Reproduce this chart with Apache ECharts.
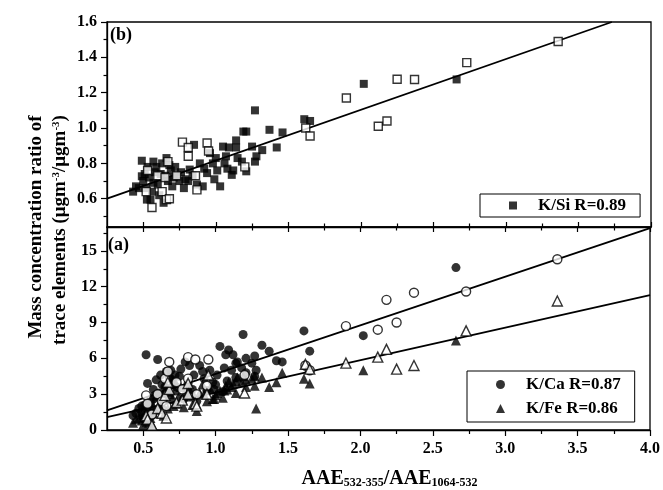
<!DOCTYPE html>
<html>
<head>
<meta charset="utf-8">
<script src="https://cdn.jsdelivr.net/npm/echarts@6/dist/echarts.min.js"></script>
<style>
  html, body { margin: 0; padding: 0; background: #fff; }
  #chart { width: 663px; height: 490px; }
</style>
</head>
<body>
<div id="chart"></div>
<script>
// Samples drawn with filled markers
const filledX  = [0.43,0.47,0.49,0.49,0.50,0.52,0.525,0.55,0.53,0.57, 0.57,0.59,0.60,0.62,0.63,0.64,0.66,0.67,0.69,0.70,
                  0.72,0.73,0.76,0.78,0.79,0.81,0.82,0.85,0.87,0.89, 0.91,0.94,0.96,0.98,0.99,1.01,1.03,1.05,1.06,1.07,
                  1.09,1.11,1.12,1.14,1.14,1.15,1.18,1.19,1.21,1.21, 1.25,1.27,1.27,1.28,1.32,1.37,1.42,1.46,1.61,1.65,
                  2.02,2.66, 0.45,0.51,0.54,0.56,0.58,0.61,0.65,0.68,0.71,0.75, 0.84,0.92,1.00,1.08];
const filledSi = [0.64,0.66,0.815,0.727,0.70,0.66,0.595,0.595,0.78,0.81, 0.69,0.78,0.68,0.74,0.80,0.577,0.83,0.70,0.76,0.67,
                  0.78,0.73,0.75,0.66,0.71,0.70,0.765,0.905,0.68,0.80, 0.67,0.745,0.858,0.80,0.71,0.76,0.67,0.895,0.80,0.84,
                  0.89,0.735,0.76,0.93,0.89,0.83,0.81,0.98,0.98,0.755, 0.895,1.10,0.81,0.84,0.875,0.99,0.89,0.975,1.05,1.04,
                  1.25,1.275, 0.67,0.74,0.72,0.64,0.75,0.62,0.73,0.79,0.72,0.70, 0.73,0.77,0.83,0.77];
const filledCa = [1.2,1.8,2.0,1.5,1.0,6.3,1.7,2.3,3.9,3.4, 2.6,4.2,5.9,4.6,3.8,2.8,4.9,3.2,5.0,4.2,
                  4.6,3.6,5.1,2.6,5.7,3.9,5.4,4.6,2.4,5.4, 4.9,3.3,5.0,4.0,3.4,4.6,7.0,3.2,5.2,6.3,
                  6.7,5.0,6.3,5.6,4.4,5.7,5.2,8.0,6.0,4.8, 5.6,6.2,4.5,5.0,7.1,6.6,5.8,5.7,8.3,6.6,
                  7.9,13.6, 1.4,2.1,1.9,1.2,2.9,3.1,3.6,4.4,3.9,4.5, 3.4,4.3,3.8,4.1];
const filledFe = [0.6,1.0,1.3,0.8,0.45,1.5,0.7,1.0,2.4,2.0, 1.4,2.8,3.0,2.4,2.2,1.2,3.6,1.8,3.0,2.6,
                  3.3,2.2,3.6,1.9,3.2,2.8,3.4,2.9,1.6,3.1, 3.8,2.4,3.5,2.6,2.6,3.1,3.3,2.7,3.3,3.7,
                  4.0,3.6,3.9,4.1,3.1,4.4,4.0,4.5,4.2,3.6, 4.3,4.5,3.7,1.8,4.4,3.6,4.0,4.8,4.3,3.9,
                  5.0,7.5, 0.9,1.1,0.6,0.5,1.7,1.9,2.6,3.2,2.0,2.9, 2.1,3.0,2.9,3.4];

// Samples drawn with open markers
const openX  = [0.52,0.53,0.56,0.60,0.63,0.65,0.66,0.68,0.67,0.73,0.77,0.81,0.81,0.86,0.87,0.94,0.95,1.20,
                1.62,1.65,1.90,2.12,2.18,2.25,2.37,2.73,3.36];
const openSi = [0.64,0.76,0.55,0.73,0.64,0.72,0.595,0.60,0.81,0.73,0.92,0.89,0.84,0.73,0.65,0.915,0.87,0.78,
                1.00,0.955,1.17,1.01,1.04,1.276,1.275,1.37,1.49];
const openCa = [2.9,2.2,1.3,3.0,2.4,4.3,2.0,5.7,4.9,4.0,3.4,6.1,4.3,5.9,3.0,3.7,5.9,4.6,
                5.4,5.0,8.7,8.4,10.9,9.0,11.5,11.6,14.3];
const openFe = [1.2,0.9,0.4,1.8,1.4,2.9,1.0,3.4,4.0,2.3,2.5,3.9,3.0,2.2,2.0,3.0,4.6,3.1,
                5.5,5.1,5.6,6.1,6.75,5.1,5.4,8.3,10.8];

// Regression line end points
const fitSi = [[0.25, 0.60], [3.73, 1.60]];
const fitCa = [[0.25, 1.65], [4.00, 16.9]];
const fitFe = [[0.25, 1.08], [4.00, 11.3]];

// Series names (legend text)
const nameSi = 'K/Si R=0.89';
const nameCa = 'K/Ca R=0.87';
const nameFe = 'K/Fe R=0.86';

// Tick positions
const xMajor  = [0.5, 1.0, 1.5, 2.0, 2.5, 3.0, 3.5, 4.0];
const xMinor  = [0.75, 1.25, 1.75, 2.25, 2.75, 3.25, 3.75];
const ySiMajor = [0.6, 0.8, 1.0, 1.2, 1.4, 1.6];
const ySiMinor = [0.5, 0.7, 0.9, 1.1, 1.3, 1.5];
const yAMajor = [0, 3, 6, 9, 12, 15];
const yAMinor = [1.5, 4.5, 7.5, 10.5, 13.5, 16.5];

const FONT = '"Liberation Serif", "Times New Roman", serif';
const pts = (xs, ys) => xs.map((x, i) => [x, ys[i]]);

const chart = echarts.init(document.getElementById('chart'), null, { renderer: 'canvas' });

const frameLine = { show: true, onZero: false, lineStyle: { color: '#000', width: 1.3 } };
const noLine = { show: false, onZero: false };

function xAxisDef(grid, position, ticks, len, inside, withLine, labels) {
  return {
    type: 'value', gridIndex: grid, position: position, min: 0.25, max: 4.0,
    axisLine: withLine ? frameLine : noLine,
    splitLine: { show: false },
    axisTick: { show: true, inside: inside, length: len, customValues: ticks,
                lineStyle: { color: '#000', width: 1.2 } },
    axisLabel: labels ? {
      show: true, customValues: ticks, margin: 11, color: '#000',
      fontFamily: FONT, fontWeight: 'bold', fontSize: 16,
      formatter: v => v.toFixed(1)
    } : { show: false }
  };
}

function yAxisDef(grid, min, max, ticks, len, labels, digits) {
  return {
    type: 'value', gridIndex: grid, position: 'left', min: min, max: max,
    axisLine: labels ? frameLine : noLine,
    splitLine: { show: false },
    axisTick: { show: true, inside: false, length: len, customValues: ticks,
                lineStyle: { color: '#000', width: 1.2 } },
    axisLabel: labels ? {
      show: true, customValues: ticks, margin: 10, color: '#000',
      fontFamily: FONT, fontWeight: 'bold', fontSize: 16,
      formatter: v => v.toFixed(digits)
    } : { show: false }
  };
}

const filledStyle = { color: '#000' };
const openStyle = { color: '#fff', borderColor: '#000', borderWidth: 1.4 };
const fitStyle = { color: '#000', width: 1.8 };

const legendText = {
  fontFamily: FONT, fontWeight: 'bold', fontSize: 17, color: '#000',
  rich: { g: { width: 16 } }
};

const option = {
  animation: false,
  backgroundColor: '#fff',
  grid: [
    { left: 107, top: 22, width: 544, height: 205, show: true, borderColor: '#000', borderWidth: 1.3 },
    { left: 107, top: 227, width: 544, height: 205, show: true, borderColor: '#000', borderWidth: 1.3 }
  ],
  xAxis: [
    xAxisDef(0, 'bottom', xMajor, 5, true, true, false),
    xAxisDef(0, 'bottom', xMinor, 3.5, true, false, false),
    Object.assign(xAxisDef(1, 'bottom', xMajor, 6, false, true, true), {
      name: 'AAE{s|532-355}/AAE{s|1064-532}',
      nameLocation: 'middle',
      nameGap: 39,
      nameTextStyle: {
        fontFamily: FONT, fontWeight: 'bold', fontSize: 20, color: '#000',
        padding: [0, 0, 0, 22],
        rich: { s: { fontFamily: FONT, fontWeight: 'bold', fontSize: 12, color: '#000',
                     verticalAlign: 'bottom', padding: [8, 0, 0, 0] } }
      }
    }),
    xAxisDef(1, 'bottom', xMinor, 4, false, false, false),
    xAxisDef(1, 'top', xMajor, 5, true, false, false),
    xAxisDef(1, 'top', xMinor, 3.5, true, false, false)
  ],
  yAxis: [
    yAxisDef(0, 0.44, 1.6, ySiMajor, 6, true, 1),
    yAxisDef(0, 0.44, 1.6, ySiMinor, 3.5, false, 1),
    yAxisDef(1, 0, 17, yAMajor, 6, true, 0),
    yAxisDef(1, 0, 17, yAMinor, 3.5, false, 0)
  ],
  legend: [
    {
      data: [nameSi], left: 480, top: 194, orient: 'vertical',
      itemWidth: 8, itemHeight: 8, selectedMode: false,
      borderColor: '#000', borderWidth: 1, borderRadius: 0,
      padding: [3, 14, 3, 29],
      formatter: '{g|}{name}',
      textStyle: legendText
    },
    {
      data: [nameCa, nameFe], left: 467, top: 371, orient: 'vertical',
      itemWidth: 9, itemHeight: 9, itemGap: 7, selectedMode: false,
      borderColor: '#000', borderWidth: 1, borderRadius: 0,
      padding: [5, 14, 5, 29],
      formatter: '{g|}{name}',
      textStyle: legendText
    }
  ],
  graphic: [
    { type: 'text', left: 110, top: 26,
      style: { text: '(b)', fontFamily: FONT, fontWeight: 'bold', fontSize: 18, fill: '#000' } },
    { type: 'text', left: 108, top: 236,
      style: { text: '(a)', fontFamily: FONT, fontWeight: 'bold', fontSize: 18, fill: '#000' } },
    { type: 'text', x: 36, y: 227, rotation: Math.PI / 2,
      style: { text: 'Mass concentration ratio of', fontFamily: FONT, fontWeight: 'bold', fontSize: 19,
               fill: '#000', align: 'center', verticalAlign: 'middle' } },
    { type: 'text', x: 60, y: 230, rotation: Math.PI / 2,
      style: { text: 'trace elements (μgm{s|-3}/μgm{s|-3})', fontFamily: FONT, fontWeight: 'bold', fontSize: 19,
               fill: '#000', align: 'center', verticalAlign: 'middle',
               rich: { s: { fontFamily: FONT, fontWeight: 'bold', fontSize: 11, fill: '#000',
                            verticalAlign: 'top', padding: [0, 0, 8, 0] } } } }
  ],
  series: [
    { type: 'line', xAxisIndex: 0, yAxisIndex: 0, data: fitSi, symbol: 'none',
      lineStyle: fitStyle, silent: true, z: 1 },
    { type: 'scatter', name: nameSi, xAxisIndex: 0, yAxisIndex: 0,
      data: pts(filledX, filledSi), symbol: 'rect', symbolSize: 8, itemStyle: filledStyle, z: 2 },
    { type: 'scatter', name: 'K/Si open', xAxisIndex: 0, yAxisIndex: 0,
      data: pts(openX, openSi), symbol: 'rect', symbolSize: 8, itemStyle: openStyle, z: 3 },

    { type: 'line', xAxisIndex: 2, yAxisIndex: 2, data: fitCa, symbol: 'none',
      lineStyle: fitStyle, silent: true, z: 1 },
    { type: 'line', xAxisIndex: 2, yAxisIndex: 2, data: fitFe, symbol: 'none',
      lineStyle: fitStyle, silent: true, z: 1 },
    { type: 'scatter', name: nameCa, xAxisIndex: 2, yAxisIndex: 2,
      data: pts(filledX, filledCa), symbol: 'circle', symbolSize: 9, itemStyle: filledStyle, z: 2 },
    { type: 'scatter', name: 'K/Ca open', xAxisIndex: 2, yAxisIndex: 2,
      data: pts(openX, openCa), symbol: 'circle', symbolSize: 9, itemStyle: openStyle, z: 3 },
    { type: 'scatter', name: nameFe, xAxisIndex: 2, yAxisIndex: 2,
      data: pts(filledX, filledFe), symbol: 'triangle', symbolSize: 10, itemStyle: filledStyle, z: 2 },
    { type: 'scatter', name: 'K/Fe open', xAxisIndex: 2, yAxisIndex: 2,
      data: pts(openX, openFe), symbol: 'triangle', symbolSize: 10, itemStyle: openStyle, z: 3 }
  ]
};

chart.setOption(option);
</script>
</body>
</html>
